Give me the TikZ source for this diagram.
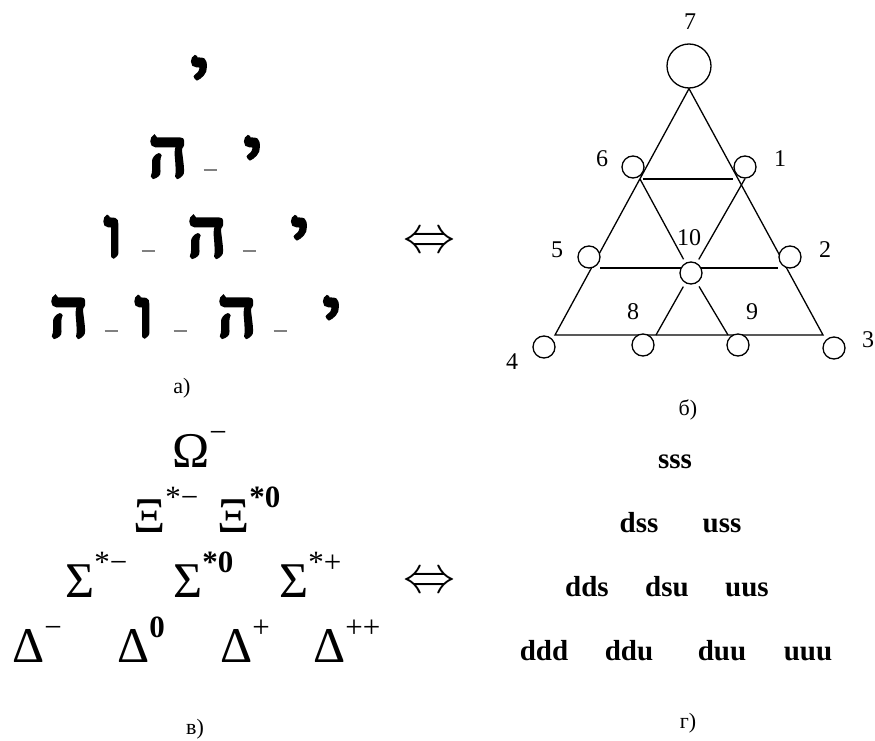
\documentclass[tikz,border=0pt]{standalone}
\usepackage{fontspec}
\setmainfont{Liberation Serif}
\newfontfamily\hebfont[Script=Hebrew, FakeBold=6]{Liberation Serif}
\TeXXeTstate=1
\newcommand{\heb}[1]{{\hebfont\beginR#1\endR}}
\newcommand{\gapbar}{\textcolor{gray}{\rule{13pt}{1.6pt}}}
\newcommand{\sps}[1]{\raisebox{25pt}{\fontsize{31}{31}\selectfont #1}}

\begin{document}
\begin{tikzpicture}[x=1pt, y=-1pt,
    letter/.style={anchor=base, inner sep=0pt, font=\fontsize{66}{66}\selectfont},
    gapmark/.style={inner sep=0pt},
    particle/.style={anchor=base west, inner sep=0pt, font=\fontsize{50}{50}\selectfont},
    quark/.style={anchor=base, inner sep=0pt, font=\bfseries\fontsize{29}{29}\selectfont},
    caption/.style={anchor=base, inner sep=0pt, font=\fontsize{22}{22}\selectfont},
    equiv/.style={inner sep=0pt},
    vtx/.style={circle, draw, line width=1.3pt, fill=white, minimum size=22pt, inner sep=0pt},
    num/.style={inner sep=0pt, font=\fontsize{24}{24}\selectfont},
    edge/.style={line width=1.3pt}
]
\useasboundingbox (0,0) rectangle (875,741);

% a) letters
\node[letter] (y1) at (200,96) {\heb{י}};

\node[letter] (h21) at (168,176) {\heb{ה}};
\node[gapmark] (g21) at (210,170) {\gapbar};
\node[letter] (y2) at (253,176) {\heb{י}};

\node[letter] (v31) at (113,256) {\heb{ו}};
\node[gapmark] (g31) at (148,251) {\gapbar};
\node[letter] (h31) at (207,256) {\heb{ה}};
\node[gapmark] (g32) at (249,251) {\gapbar};
\node[letter] (y3) at (300,256) {\heb{י}};

\node[letter] (h41) at (69,336) {\heb{ה}};
\node[gapmark] (g41) at (111,331) {\gapbar};
\node[letter] (v41) at (144,336) {\heb{ו}};
\node[gapmark] (g42) at (180,331) {\gapbar};
\node[letter] (h42) at (237,336) {\heb{ה}};
\node[gapmark] (g43) at (280,331) {\gapbar};
\node[letter] (y4) at (332,336) {\heb{י}};

\node[caption] (capa) at (182,393) {a)};

% equivalence signs
\node[equiv] (eqa) at (429,243) {\resizebox{52pt}{!}{$\Leftrightarrow$}};
\node[equiv] (eqb) at (429,583) {\resizebox{52pt}{!}{$\Leftrightarrow$}};

% b) triangle
\node[vtx, minimum size=44pt] (c7) at (689,66) {};
\coordinate (bl) at (555,335);
\coordinate (br) at (823,335);
\coordinate (p6) at (640,179);
\coordinate (h6) at (643,179);
\coordinate (h1) at (733,179);
\coordinate (h5) at (600,268);
\coordinate (h2) at (778,268);
\coordinate (p8) at (656,335);
\coordinate (p9) at (728,335);

\draw[edge] (c7.south) -- (bl) -- (br) -- cycle;
\draw[edge] (h6) -- (h1);
\draw[edge] (h5) -- (h2);

\node[vtx] (c6) at (633,167) {};
\node[vtx] (c1) at (745,167) {};
\node[vtx] (c5) at (589,257) {};
\node[vtx] (c2) at (790,257) {};
\node[vtx] (c10) at (691,273) {};
\node[vtx] (c4) at (544,347) {};
\node[vtx] (c8) at (643,345) {};
\node[vtx] (c9) at (738,345) {};
\node[vtx] (c3) at (834,348) {};

\draw[edge, shorten >=4pt] (p6) -- (c10);
\draw[edge, shorten >=4pt] (c1.south) -- (c10);
\draw[edge, shorten <=4pt] (c10) -- (p8);
\draw[edge, shorten <=4pt] (c10) -- (p9);

\node[num] (n7) at (690,22) {7};
\node[num] (n6) at (602,159) {6};
\node[num] (n1) at (780,159) {1};
\node[num] (n5) at (557,250) {5};
\node[num] (n2) at (825,250) {2};
\node[num] (n10) at (689,238) {10};
\node[num] (n8) at (633,312) {8};
\node[num] (n9) at (752,312) {9};
\node[num] (n4) at (512,362) {4};
\node[num] (n3) at (868,340) {3};

\node[caption] (capb) at (688,415) {б)};

% c) particles
\node[particle] (om) at (172,467) {Ω\sps{−}};
\node[particle] (xim) at (133,532) {Ξ\sps{*−}};
\node[particle] (xiz) at (217,532) {Ξ\sps{\textbf{*0}}};
\node[particle] (sim) at (65,597) {Σ\sps{*−}};
\node[particle] (siz) at (173,597) {Σ\sps{\textbf{*0}}};
\node[particle] (sip) at (279,597) {Σ\sps{*+}};
\node[particle] (dem) at (12,662) {Δ\sps{−}};
\node[particle] (dez) at (117,662) {Δ\sps{\textbf{0}}};
\node[particle] (dep) at (220,662) {Δ\sps{+}};
\node[particle] (depp) at (313,662) {Δ\sps{++}};

\node[caption] (capc) at (195,734) {в)};

% d) quarks
\node[quark] (sss) at (675,468) {sss};
\node[quark] (dss) at (639,532) {dss};
\node[quark] (uss) at (722,532) {uss};
\node[quark] (dds) at (587,596) {dds};
\node[quark] (dsu) at (667,596) {dsu};
\node[quark] (uus) at (747,596) {uus};
\node[quark] (ddd) at (544,660) {ddd};
\node[quark] (ddu) at (629,660) {ddu};
\node[quark] (duu) at (722,660) {duu};
\node[quark] (uuu) at (808,660) {uuu};

\node[caption] (capd) at (688,728) {г)};

\end{tikzpicture}
\end{document}
